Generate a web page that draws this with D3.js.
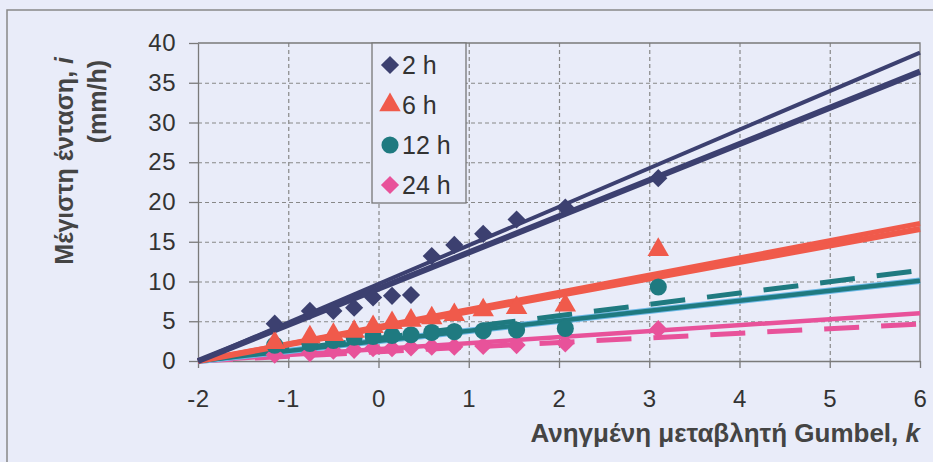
<!DOCTYPE html>
<meta charset="utf-8">
<style>
  body { margin: 0; background: #e9ecf9; }
  svg { display: block; font-family: "Liberation Sans", Arial, sans-serif; }
  .axis path, .axis line { stroke: #7a7a7a; stroke-width: 1.3; }
  .axis text { font-size: 24px; fill: #333; letter-spacing: 0.5px; }
  .grid line { stroke: #888; stroke-dasharray: 4,3; stroke-width: 1.2; }
  .grid path { display: none; }
</style>
<body>
<div id="chart"></div>
</body>
<script src="https://cdn.jsdelivr.net/npm/d3@7"></script>
<script>
  // reduced Gumbel variate of the observations
  var kObs = [-1.15, -0.76, -0.5, -0.27, -0.06, 0.15, 0.36, 0.59, 0.84, 1.16, 1.53, 2.07, 3.1];
  var i2h  = [4.7, 6.3, 6.3, 6.7, 8.0, 8.2, 8.3, 13.2, 14.6, 16.0, 17.8, 19.3, 23.0];
  var i6h  = [2.3, 3.0, 3.3, 3.7, 4.3, 4.8, 5.1, 5.4, 5.8, 6.4, 6.7, 7.0, 14.0];
  var i12h = [2.0, 2.2, 2.6, 3.0, 3.1, 3.2, 3.3, 3.6, 3.7, 3.8, 3.9, 4.1, 9.3];
  var i24h = [0.8, 1.0, 1.3, 1.4, 1.6, 1.6, 1.7, 1.8, 1.8, 1.9, 2.0, 2.2, 4.0];

  // fitted lines, end points at k = -2 and k = 6
  var kFit = [-2, 6];
  var fit2hA = [0, 38.8], fit2hB = [0, 36.4];
  var fit6hA = [0, 17.3], fit6hB = [0, 16.6];
  var fit12hA = [0, 10.1], fit12hB = [0, 11.4];
  var fit24hA = [0, 6.0], fit24hB = [0, 4.65];

  var labels = ["2 h", "6 h", "12 h", "24 h"];
  var colors = ["#3c4070", "#f05a4b", "#1f7a80", "#e8529a"];
  var xTicks = [-2, -1, 0, 1, 2, 3, 4, 5, 6];
  var yTicks = [0, 5, 10, 15, 20, 25, 30, 35, 40];

  var W = 933, H = 462;
  var svg = d3.select("#chart").append("svg").attr("width", W).attr("height", H);

  svg.append("rect").attr("x", 7).attr("y", 10).attr("width", W + 10).attr("height", H + 10)
    .attr("fill", "#e9ecf9").attr("stroke", "#888").attr("stroke-width", 1.5);

  var x = d3.scaleLinear().domain([-2, 6]).range([198, 920]);
  var y = d3.scaleLinear().domain([0, 40]).range([361, 43]);

  // grid
  svg.append("g").attr("class", "grid")
    .attr("transform", "translate(0,43)")
    .call(d3.axisBottom(x).tickValues(xTicks.slice(1, -1)).tickSize(318).tickFormat(""));
  svg.append("g").attr("class", "grid")
    .attr("transform", "translate(198,0)")
    .call(d3.axisRight(y).tickValues(yTicks.slice(1, -1)).tickSize(722).tickFormat(""));

  // plot border top/right
  svg.append("path").attr("d", "M198,43H920V361").attr("fill", "none")
    .attr("stroke", "#7a7a7a").attr("stroke-width", 1.3);

  svg.append("g").attr("class", "axis")
    .attr("transform", "translate(0,361)")
    .call(d3.axisBottom(x).tickValues(xTicks).tickSize(7).tickSizeOuter(0).tickPadding(22)
      .tickFormat(function (d) { return String(d); }));
  svg.append("g").attr("class", "axis")
    .attr("transform", "translate(198,0)")
    .call(d3.axisLeft(y).tickValues(yTicks).tickSize(9).tickSizeOuter(0).tickPadding(13)
      .tickFormat(function (d) { return String(d); }));

  // fitted lines
  var line = d3.line().x(function (d) { return x(d[0]); }).y(function (d) { return y(d[1]); });
  function fit(vals, color, width, dash) {
    svg.append("path")
      .attr("d", line(d3.zip(kFit, vals)))
      .attr("fill", "none").attr("stroke", color).attr("stroke-width", width)
      .attr("stroke-dasharray", dash || null);
  }
  fit(fit24hA, colors[3], 4.5, null);
  fit(fit24hB, colors[3], 5, "35,22");
  fit(fit12hA, "#6cb8e6", 6.5, null);
  fit(fit12hA, colors[2], 4.5, null);
  fit(fit12hB, colors[2], 5, "35,22");
  fit(fit6hA, colors[1], 5, null);
  fit(fit6hB, colors[1], 6, null);
  fit(fit2hA, colors[0], 4, null);
  fit(fit2hB, colors[0], 6, null);

  // markers
  var diamond = d3.symbol().type(d3.symbolSquare).size(165);
  var tri = d3.symbol().type(d3.symbolTriangle).size(200);
  var circ = d3.symbol().type(d3.symbolCircle).size(230);

  function pts(vals, sym, color, rot) {
    svg.append("g").selectAll("path")
      .data(d3.zip(kObs, vals))
      .enter().append("path")
      .attr("d", sym)
      .attr("fill", color)
      .attr("transform", function (d) {
        return "translate(" + x(d[0]) + "," + y(d[1]) + ")" + (rot ? " rotate(45)" : "");
      });
  }
  pts(i24h, diamond, colors[3], true);
  pts(i12h, circ, colors[2], false);
  pts(i6h, tri, colors[1], false);
  pts(i2h, diamond, colors[0], true);

  // legend
  var lg = svg.append("g").attr("transform", "translate(372,43)");
  lg.append("rect").attr("width", 94).attr("height", 160)
    .attr("fill", "#e9ecf9").attr("stroke", "#777").attr("stroke-width", 1.3);
  var syms = [diamond, tri, circ, diamond];
  labels.forEach(function (t, j) {
    var cy = 22 + j * 40;
    lg.append("path").attr("d", syms[j]).attr("fill", colors[j])
      .attr("transform", "translate(18," + cy + ")" + (j === 0 || j === 3 ? " rotate(45)" : ""));
    lg.append("text").attr("x", 30).attr("y", cy).attr("dy", "0.36em")
      .attr("font-size", 25).attr("fill", "#333").text(t);
  });

  // axis titles
  var xt = svg.append("text").attr("x", 920).attr("y", 442).attr("text-anchor", "end")
    .attr("font-size", 26).attr("font-weight", "bold").attr("fill", "#444");
  xt.append("tspan").text("Ανηγμένη μεταβλητή Gumbel, ");
  xt.append("tspan").attr("font-style", "italic").text("k");

  var yt = svg.append("text").attr("transform", "translate(73,57) rotate(-90)")
    .attr("text-anchor", "end").attr("font-size", 25).attr("font-weight", "bold").attr("fill", "#444");
  yt.append("tspan").text("Μέγιστη ένταση, ");
  yt.append("tspan").attr("font-style", "italic").text("i");
  svg.append("text").attr("transform", "translate(106,60) rotate(-90)")
    .attr("text-anchor", "end").attr("font-size", 25).attr("font-weight", "bold").attr("fill", "#444")
    .text("(mm/h)");
</script>
